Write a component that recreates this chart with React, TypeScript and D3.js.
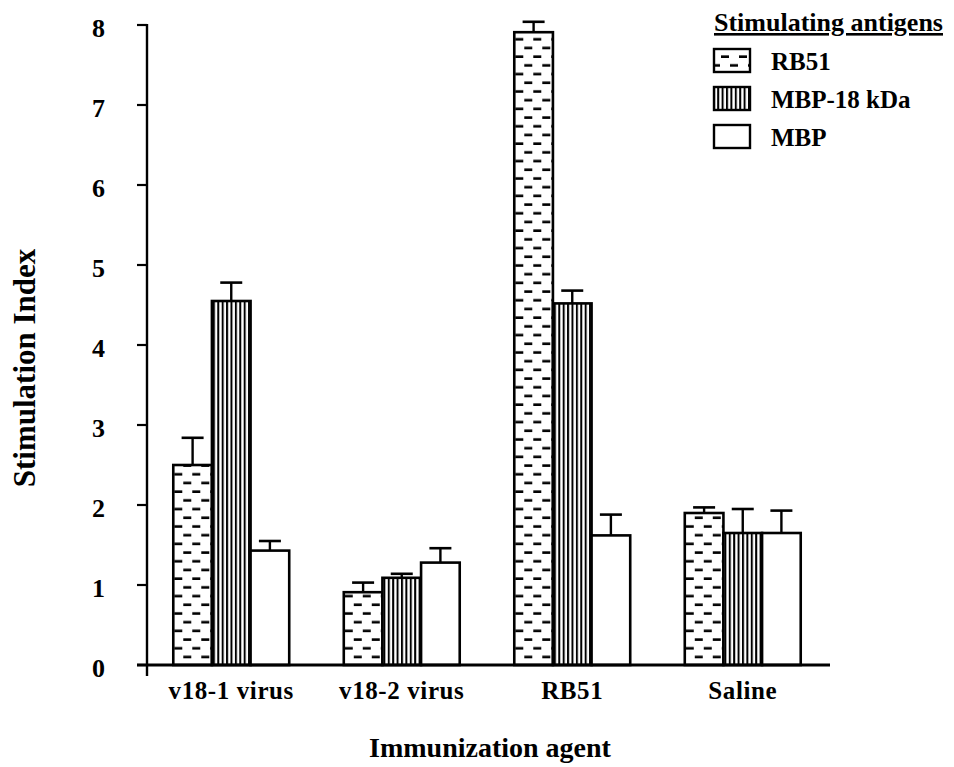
import { useEffect, useRef } from 'react';
import * as d3 from 'd3';

// ── data ────────────────────────────────────────────────────────────────────
const AGENTS = ['v18-1 virus', 'v18-2 virus', 'RB51', 'Saline'];
const ANTIGENS = ['RB51', 'MBP-18 kDa', 'MBP'];
const MEANS = [
  [2.5, 4.55, 1.43],   // v18-1 virus
  [0.91, 1.09, 1.28],  // v18-2 virus
  [7.91, 4.52, 1.62],  // RB51
  [1.9, 1.65, 1.65],   // Saline
];
const ERR_TOPS = [
  [2.84, 4.78, 1.55],
  [1.03, 1.14, 1.46],
  [8.04, 4.68, 1.88],
  [1.97, 1.95, 1.93],
];
const Y_TICKS = [0, 1, 2, 3, 4, 5, 6, 7, 8];
const FILLS = ['url(#dashPat)', 'url(#vlinePat)', '#fff'];

const FONT = 'Liberation Serif, DejaVu Serif, Times New Roman, serif';

export default function App() {
  const svgRef = useRef<SVGSVGElement | null>(null);
  const W = 954, H = 767;

  useEffect(() => {
    if (!svgRef.current) return;
    const svg = d3.select(svgRef.current);
    svg.selectAll('*').remove();

    // patterns
    const defs = svg.append('defs');
    const dp = defs.append('pattern').attr('id', 'dashPat')
      .attr('patternUnits', 'userSpaceOnUse').attr('width', 18).attr('height', 17.4);
    dp.append('rect').attr('width', 18).attr('height', 17.4).attr('fill', '#fff');
    dp.append('rect').attr('x', 1).attr('y', 3.2).attr('width', 8).attr('height', 2.6).attr('fill', '#000');
    dp.append('rect').attr('x', 10).attr('y', 11.9).attr('width', 8).attr('height', 2.6).attr('fill', '#000');

    const vp = defs.append('pattern').attr('id', 'vlinePat')
      .attr('patternUnits', 'userSpaceOnUse').attr('width', 4.4).attr('height', 10);
    vp.append('rect').attr('width', 4.4).attr('height', 10).attr('fill', '#fff');
    vp.append('rect').attr('x', 0).attr('width', 2).attr('height', 10).attr('fill', '#000');

    const x0 = d3.scaleBand().domain(AGENTS).range([146, 828]).paddingInner(0.32).paddingOuter(0.16);
    const x1 = d3.scaleBand().domain(ANTIGENS).range([0, x0.bandwidth()]);
    const y = d3.scaleLinear().domain([0, 8]).range([665, 25]);

    const g = svg.append('g').attr('font-family', FONT).attr('font-weight', 'bold');

    // bars
    AGENTS.forEach((agent, i) => {
      const grp = g.append('g').attr('transform', `translate(${x0(agent)},0)`);
      grp.selectAll('rect.bar').data(ANTIGENS).enter().append('rect')
        .attr('class', 'bar')
        .attr('x', d => x1(d)!)
        .attr('y', (d, j) => y(MEANS[i][j]))
        .attr('width', x1.bandwidth())
        .attr('height', (d, j) => y(0) - y(MEANS[i][j]))
        .attr('fill', (d, j) => FILLS[j])
        .attr('stroke', '#000').attr('stroke-width', 2.6);

      // error bars (upper only)
      ANTIGENS.forEach((a, j) => {
        const cx = x1(a)! + x1.bandwidth() / 2;
        grp.append('line')
          .attr('x1', cx).attr('x2', cx)
          .attr('y1', y(MEANS[i][j])).attr('y2', y(ERR_TOPS[i][j]))
          .attr('stroke', '#000').attr('stroke-width', 2.4);
        grp.append('line')
          .attr('x1', cx - 11).attr('x2', cx + 11)
          .attr('y1', y(ERR_TOPS[i][j])).attr('y2', y(ERR_TOPS[i][j]))
          .attr('stroke', '#000').attr('stroke-width', 2.6);
      });
    });

    // axes
    g.append('line').attr('x1', 137).attr('x2', 830).attr('y1', y(0)).attr('y2', y(0))
      .attr('stroke', '#000').attr('stroke-width', 2.8);
    g.append('line').attr('x1', 147).attr('x2', 147).attr('y1', y(8) - 1).attr('y2', y(0) + 11)
      .attr('stroke', '#000').attr('stroke-width', 2.4);

    g.selectAll('line.ytick').data(Y_TICKS).enter().append('line')
      .attr('x1', 137).attr('x2', 147)
      .attr('y1', d => y(d)).attr('y2', d => y(d))
      .attr('stroke', '#000').attr('stroke-width', 2.2);

    g.selectAll('text.ytick').data(Y_TICKS).enter().append('text')
      .attr('x', 105).attr('y', d => y(d) + 12)
      .attr('text-anchor', 'end').attr('font-size', 26)
      .text(d => d);

    g.selectAll('text.xcat').data(AGENTS).enter().append('text')
      .attr('x', d => x0(d)! + x0.bandwidth() / 2).attr('y', 699)
      .attr('text-anchor', 'middle').attr('font-size', 25)
      .attr('letter-spacing', 0.6)
      .text(d => d);

    g.append('text')
      .attr('x', 490).attr('y', 757)
      .attr('text-anchor', 'middle').attr('font-size', 28)
      .text('Immunization agent');

    g.append('text')
      .attr('transform', 'translate(35,368) rotate(-90)')
      .attr('text-anchor', 'middle').attr('font-size', 31)
      .text('Stimulation Index');

    // legend
    const lg = svg.append('g').attr('font-family', FONT).attr('font-weight', 'bold');
    lg.append('text').attr('x', 714).attr('y', 31).attr('font-size', 26)
      .attr('text-decoration', 'underline')
      .text('Stimulating antigens');

    ANTIGENS.forEach((a, j) => {
      const cy = 61 + j * 38;
      lg.append('rect').attr('x', 714).attr('y', cy - 12).attr('width', 36).attr('height', 23)
        .attr('fill', FILLS[j]).attr('stroke', '#000').attr('stroke-width', 2.4);
      lg.append('text').attr('x', 771).attr('y', cy + 9).attr('font-size', 25)
        .text(a);
    });
  }, []);

  return (
    <svg ref={svgRef} width={W} height={H} viewBox={`0 0 ${W} ${H}`}
      style={{ display: 'block', position: 'absolute', left: 0, top: 0, background: '#fff' }} />
  );
}
